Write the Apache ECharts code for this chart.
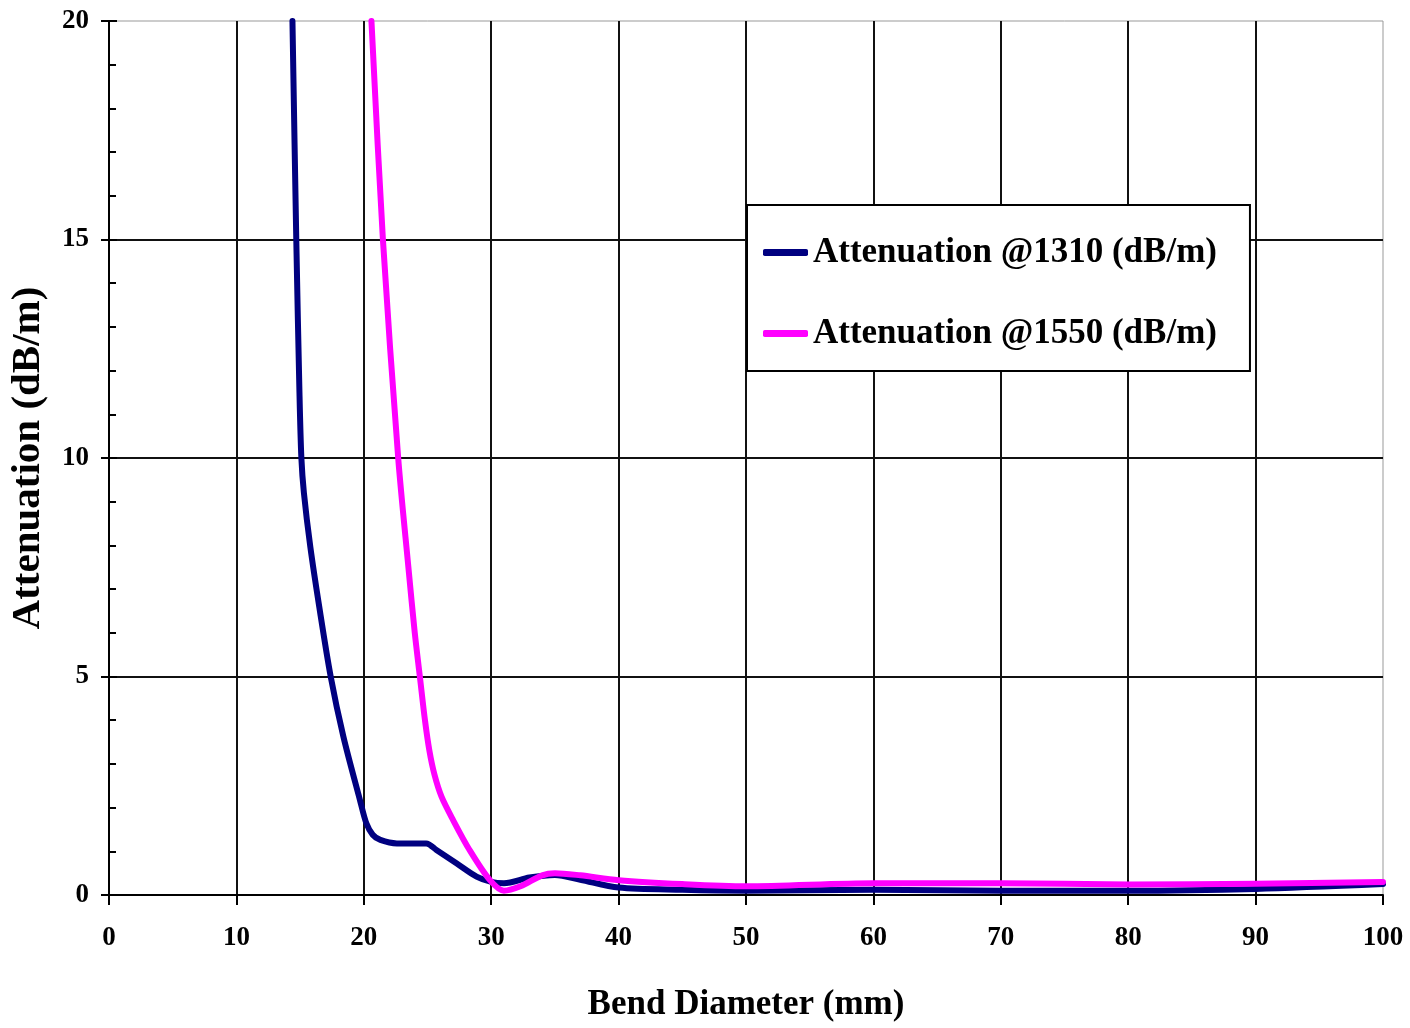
<!DOCTYPE html>
<html>
<head>
<meta charset="utf-8">
<script src="https://cdn.jsdelivr.net/npm/echarts@6/dist/echarts.min.js"></script>
<style>
html,body{margin:0;padding:0;background:#fff;}
#chart{width:1410px;height:1028px;}
</style>
</head>
<body>
<div id="chart"></div>
<script>
// Bend diameter (mm) / attenuation (dB/m) pairs
const series1310Name = 'Attenuation @1310 (dB/m)';
const series1550Name = 'Attenuation @1550 (dB/m)';
const diam1310 = [14.4, 14.7, 14.95, 15.1, 15.3, 15.8, 16.5, 17.4, 18.4, 19.7, 20.2, 20.7, 21.3, 22.6, 24.9, 25.7, 27.3, 28.85, 30, 31, 33, 35, 37, 40, 45, 50, 60, 70, 80, 90, 100];
const att1310  = [20, 15, 11.5, 10, 9.2, 7.97, 6.6, 5, 3.62, 2.17, 1.64, 1.38, 1.26, 1.18, 1.18, 1.03, 0.72, 0.42, 0.3, 0.27, 0.4, 0.46, 0.35, 0.17, 0.12, 0.1, 0.12, 0.1, 0.1, 0.14, 0.25];
const diam1550 = [20.6, 21.5, 22.7, 23.5, 24.0, 24.4, 24.8, 25.15, 25.55, 26.1, 27.0, 28.3, 29.9, 31.0, 32.3, 34, 35, 37, 40, 45, 50, 60, 70, 80, 90, 100];
const att1550  = [20, 15, 10, 7.5, 6.0, 5.0, 4.0, 3.3, 2.75, 2.25, 1.72, 1.03, 0.34, 0.1, 0.2, 0.45, 0.5, 0.45, 0.34, 0.25, 0.2, 0.27, 0.27, 0.24, 0.26, 0.3];
const xTitle = 'Bend Diameter (mm)';
const yTitle = 'Attenuation (dB/m)';

const pairs = (xs, ys) => xs.map((x, i) => [x, ys[i]]);
const FONT = 'Liberation Serif';

const chart = echarts.init(document.getElementById('chart'), null, {renderer: 'canvas'});
chart.setOption({
  animation: false,
  backgroundColor: '#fff',
  grid: {left: 109, right: 27, top: 21, bottom: 133, outerBoundsMode: 'none', containLabel: false,
         show: true, borderColor: '#999', borderWidth: 1},
  legend: {
    left: 747, top: 205, orient: 'vertical',
    padding: [30, 33, 20, 16],
    itemGap: 46, itemWidth: 45, itemHeight: 7, itemTextGap: 8,
    itemStyle: {borderWidth: 0},
    borderColor: '#000', borderWidth: 2, backgroundColor: '#fff',
    textStyle: {fontFamily: FONT, fontWeight: 'bold', fontSize: 35, color: '#000'},
    data: [
      {name: series1310Name, icon: 'roundRect'},
      {name: series1550Name, icon: 'roundRect'}
    ]
  },
  xAxis: {
    type: 'value', min: 0, max: 100, interval: 10,
    name: xTitle, nameLocation: 'middle', nameGap: 92,
    nameTextStyle: {fontFamily: FONT, fontWeight: 'bold', fontSize: 35, color: '#000'},
    axisLine: {show: true, lineStyle: {color: '#000', width: 2}},
    axisTick: {show: true, inside: false, length: 10, lineStyle: {color: '#000', width: 2}},
    axisLabel: {margin: 30, fontFamily: FONT, fontWeight: 'bold', fontSize: 27, color: '#000'},
    splitLine: {show: true, showMaxLine: false, lineStyle: {color: '#111', width: 2}}
  },
  yAxis: [{
    type: 'value', min: 0, max: 20, interval: 5,
    name: yTitle, nameLocation: 'middle', nameGap: 60,
    nameTextStyle: {fontFamily: FONT, fontWeight: 'bold', fontSize: 41, color: '#000'},
    axisLine: {show: true, lineStyle: {color: '#000', width: 2}},
    axisTick: {show: true, inside: true, length: 8, lineStyle: {color: '#000', width: 2}},
    minorTick: {show: true, splitNumber: 5, length: 7, lineStyle: {color: '#000', width: 2}},
    axisLabel: {margin: 20, fontFamily: FONT, fontWeight: 'bold', fontSize: 27, color: '#000'},
    splitLine: {show: true, showMaxLine: false, lineStyle: {color: '#111', width: 2}}
  }, {
    type: 'value', min: 0, max: 20, interval: 5, position: 'left', offset: 0,
    axisLine: {show: false},
    axisTick: {show: true, inside: false, length: 8, lineStyle: {color: '#000', width: 2}},
    axisLabel: {show: false},
    splitLine: {show: false}
  }],
  series: [
    {
      name: series1310Name, type: 'line', data: pairs(diam1310, att1310),
      smooth: 0.3, symbol: 'none', clip: true,
      lineStyle: {color: '#000080', width: 6, cap: 'round', join: 'round'},
      itemStyle: {color: '#000080'}, z: 3
    },
    {
      name: series1550Name, type: 'line', data: pairs(diam1550, att1550),
      smooth: 0.3, symbol: 'none', clip: true,
      lineStyle: {color: '#ff00ff', width: 6, cap: 'round', join: 'round'},
      itemStyle: {color: '#ff00ff'}, z: 4
    }
  ]
});
</script>
</body>
</html>
